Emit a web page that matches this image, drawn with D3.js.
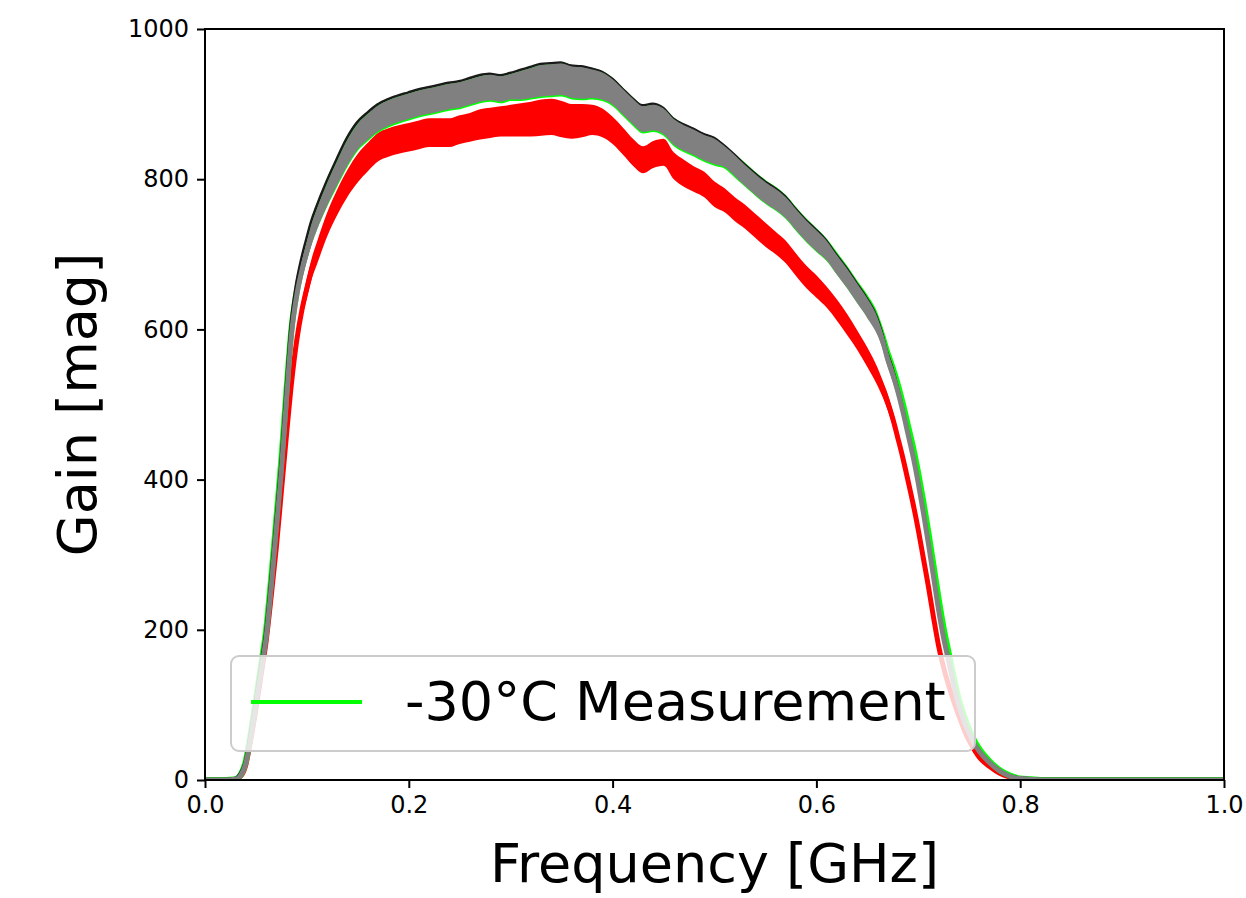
<!DOCTYPE html>
<html>
<head>
<meta charset="utf-8">
<script src="https://cdn.jsdelivr.net/npm/d3@7"></script>
<style>
    body { margin: 0; background: #ffffff; }
    svg text { font-family: "DejaVu Sans", sans-serif; fill: #000000; }
</style>
</head>
<body>
<svg id="chart" width="1246" height="898"></svg>
<script>
// Frequency samples [GHz]
var freq = [0, 0.02, 0.03, 0.035, 0.04, 0.045, 0.05, 0.055, 0.06, 0.065, 0.07, 0.075, 0.08, 0.085, 0.09, 0.095, 0.10, 0.105, 0.11,
    0.12, 0.13, 0.14, 0.15, 0.16, 0.17, 0.18, 0.19, 0.20, 0.21, 0.22, 0.23, 0.24, 0.25, 0.26, 0.27, 0.28, 0.29,
    0.30, 0.31, 0.32, 0.33, 0.34, 0.35, 0.36, 0.37, 0.38, 0.39, 0.40, 0.41, 0.42, 0.43, 0.44, 0.45, 0.46, 0.47, 0.48, 0.49,
    0.50, 0.51, 0.52, 0.53, 0.54, 0.55, 0.56, 0.57, 0.58, 0.59, 0.60, 0.61, 0.62, 0.63, 0.64, 0.65,
    0.66, 0.665, 0.67, 0.675, 0.68, 0.685, 0.69, 0.695, 0.70, 0.705, 0.71, 0.715, 0.72, 0.725, 0.73, 0.735, 0.74, 0.745,
    0.75, 0.755, 0.76, 0.77, 0.78, 0.79, 0.80, 0.81, 0.82, 0.85, 0.90, 1.00];

// -30°C measurement (green)
var greenGain = [0, 0, 1, 7, 25, 63, 107, 153, 200, 270, 348, 428, 520, 603, 650, 682, 707, 730, 749,
    781, 809, 836, 857, 870, 881, 888, 893, 897, 901, 904, 907, 910, 912, 916, 920, 922, 920,
    923, 925, 928, 931, 932, 933, 929, 928, 927, 924, 916, 903, 890, 880, 882, 877, 863, 855, 849, 842,
    837, 830, 818, 806, 794, 783, 774, 763, 747, 732, 719, 706, 688, 670, 650, 631,
    608, 590, 567, 548, 526, 500, 471, 442, 408, 370, 329, 285, 241, 201, 168, 135, 106, 85,
    67, 52, 41, 25, 13, 6, 2, 1, 0, 0, 0, 0];
var greenNoise = [0, 0, 0, 1, 2, 3, 4, 5, 6, 7, 8, 9, 10, 11, 12, 13, 14, 15, 16,
    17, 18, 19, 19, 19, 19, 19, 19, 19, 19, 19, 19, 19, 19, 19, 19, 19, 19,
    19, 21, 22, 23, 23, 23, 23, 23, 21, 20, 19, 19, 19, 19, 19, 19, 19, 19, 19, 19,
    19, 16, 16, 16, 16, 16, 16, 16, 16, 16, 16, 15, 15, 15, 15, 15,
    14, 13, 12, 12, 11, 11, 10, 10, 9, 9, 8, 8, 7, 6, 5, 5, 4, 4,
    3, 3, 2, 2, 1, 1, 0, 0, 0, 0, 0, 0];

// second measurement (grey)
var greyGain = [0, 0, 1, 6, 22, 58, 100, 145, 190, 258, 335, 413, 508, 595, 645, 678, 704, 728, 747,
    780, 809, 836, 857, 870, 881, 888, 893, 897, 901, 904, 907, 910, 912, 916, 920, 922, 920,
    923, 925, 928, 931, 932, 933, 929, 928, 927, 924, 916, 903, 890, 880, 882, 877, 863, 855, 849, 842,
    837, 830, 818, 805, 793, 782, 773, 762, 746, 731, 718, 705, 686, 668, 648, 628,
    604, 585, 560, 540, 517, 490, 460, 430, 395, 356, 314, 270, 226, 188, 157, 125, 98, 78,
    62, 48, 38, 23, 12, 5, 2, 1, 0, 0, 0, 0];
var greyNoise = [0, 0, 0, 1, 1, 2, 3, 4, 5, 6, 7, 8, 9, 10, 11, 12, 13, 14, 14,
    15, 16, 17, 17, 17, 17, 17, 17, 17, 17, 17, 17, 17, 17, 17, 17, 17, 17,
    17, 19, 20, 21, 21, 21, 21, 21, 19, 18, 17, 17, 17, 17, 17, 17, 17, 17, 17, 17,
    17, 14, 14, 14, 14, 14, 14, 14, 14, 14, 14, 13, 13, 13, 13, 13,
    12, 11, 10, 10, 9, 9, 8, 8, 7, 7, 6, 6, 5, 5, 4, 4, 3, 3,
    2, 2, 2, 1, 1, 0, 0, 0, 0, 0, 0, 0];

// third measurement (red)
var redGain = [0, 0, 1, 5, 20, 55, 95, 140, 185, 245, 310, 385, 460, 530, 585, 625, 655, 682, 702,
    740, 770, 795, 815, 830, 843, 849, 853, 856, 859, 862, 862, 862, 866, 869, 873, 875, 877,
    878, 879, 880, 882, 883, 880, 877, 878, 879, 875, 865, 851, 836, 826, 833, 836, 818, 808, 800, 793,
    780, 772, 760, 750, 738, 726, 715, 703, 686, 670, 657, 643, 626, 607, 586, 563,
    537, 521, 503, 481, 455, 428, 398, 367, 333, 295, 257, 216, 178, 149, 125, 104, 85, 67,
    52, 40, 30, 18, 9, 4, 1, 0, 0, 0, 0, 0];
var redNoise = [0, 0, 0, 1, 1, 2, 3, 4, 5, 6, 7, 8, 9, 10, 11, 12, 13, 14, 15,
    16, 17, 18, 19, 19, 19, 19, 19, 19, 19, 19, 19, 19, 19, 19, 20, 20, 20,
    21, 22, 23, 24, 24, 24, 23, 22, 20, 19, 18, 18, 18, 18, 18, 18, 18, 18, 17, 17,
    17, 16, 16, 16, 16, 16, 15, 15, 15, 15, 15, 14, 14, 14, 13, 13,
    12, 11, 11, 10, 9, 9, 8, 8, 7, 7, 6, 6, 5, 5, 4, 4, 3, 3,
    2, 2, 2, 1, 1, 0, 0, 0, 0, 0, 0, 0];

var xTicks = [0.0, 0.2, 0.4, 0.6, 0.8, 1.0];
var yTicks = [0, 200, 400, 600, 800, 1000];
var legendLabel = "-30°C Measurement";

// Static style
var style = {
    left: 205,
    right: 1224,
    top: 29,
    bottom: 780,
    tickLength: 8,
    tickFont: 24,
    labelFont: 54,
    green: "#00ff00",
    grey: "#808080",
    red: "#ff0000"
};

var svg = d3.select("#chart");

var x = d3.scaleLinear().domain([0, 1]).range([style.left, style.right]);
var y = d3.scaleLinear().domain([0, 1000]).range([style.bottom, style.top]);

svg.append("defs").append("clipPath")
    .attr("id", "plotClip")
    .append("rect")
    .attr("x", style.left)
    .attr("y", style.top - 2)
    .attr("width", style.right - style.left)
    .attr("height", style.bottom - style.top + 2);

var plot = svg.append("g").attr("clip-path", "url(#plotClip)");

// build rows for a series
var rows = function(gain, noise) {
    return freq.map(function(f, i) {
        return { f: f, g: gain[i], n: noise[i] };
    });
};

var band = d3.area()
    .curve(d3.curveMonotoneX)
    .x(function(d) { return x(d.f); })
    .y0(function(d) { return y(d.g - d.n); })
    .y1(function(d) { return y(d.g + d.n); });

var centre = d3.line()
    .curve(d3.curveMonotoneX)
    .x(function(d) { return x(d.f); })
    .y(function(d) { return y(d.g); });

var topEdge = d3.line()
    .curve(d3.curveMonotoneX)
    .x(function(d) { return x(d.f); })
    .y(function(d) { return y(d.g + d.n); });

var drawSeries = function(data, colour, width) {
    plot.append("path")
        .datum(data)
        .attr("d", band)
        .attr("fill", colour);
    plot.append("path")
        .datum(data)
        .attr("d", centre)
        .attr("fill", "none")
        .attr("stroke", colour)
        .attr("stroke-width", width);
};

var redRows = rows(redGain, redNoise);
var greenRows = rows(greenGain, greenNoise);
var greyRows = rows(greyGain, greyNoise);

drawSeries(redRows, style.red, 5);
drawSeries(greenRows, style.green, 6);

// thin dark edge sitting on top of the grey trace
plot.append("path")
    .datum(greyRows)
    .attr("d", topEdge)
    .attr("fill", "none")
    .attr("stroke", "#1a1a1a")
    .attr("stroke-width", 2.5)
    .attr("transform", "translate(-1,-1)");

drawSeries(greyRows, style.grey, 5);

// Axes
var xAxis = svg.append("g")
    .attr("transform", "translate(0," + style.bottom + ")")
    .call(d3.axisBottom(x).tickValues(xTicks).tickFormat(d3.format(".1f"))
        .tickSize(style.tickLength).tickPadding(8));

var yAxis = svg.append("g")
    .attr("transform", "translate(" + style.left + ",0)")
    .call(d3.axisLeft(y).tickValues(yTicks).tickFormat(d3.format("d"))
        .tickSize(style.tickLength).tickPadding(8));

[xAxis, yAxis].forEach(function(a) {
    a.select(".domain").remove();
    a.selectAll(".tick line").attr("stroke", "#000000").attr("stroke-width", 2);
    a.selectAll(".tick text")
        .attr("font-family", "DejaVu Sans")
        .attr("font-size", style.tickFont)
        .attr("fill", "#000000");
});

// Frame
svg.append("rect")
    .attr("x", style.left)
    .attr("y", style.top)
    .attr("width", style.right - style.left)
    .attr("height", style.bottom - style.top)
    .attr("fill", "none")
    .attr("stroke", "#000000")
    .attr("stroke-width", 2);

// Axis labels
svg.append("text")
    .attr("x", (style.left + style.right) / 2)
    .attr("y", 882)
    .attr("text-anchor", "middle")
    .attr("font-size", style.labelFont)
    .text("Frequency [GHz]");

svg.append("text")
    .attr("transform", "translate(96," + (style.top + style.bottom) / 2 + ") rotate(-90)")
    .attr("text-anchor", "middle")
    .attr("font-size", style.labelFont)
    .text("Gain [mag]");

// Legend
var legend = svg.append("g");

legend.append("rect")
    .attr("x", 231)
    .attr("y", 656)
    .attr("width", 744)
    .attr("height", 95)
    .attr("rx", 8)
    .attr("fill", "#ffffff")
    .attr("fill-opacity", 0.8)
    .attr("stroke", "#cccccc")
    .attr("stroke-width", 2);

legend.append("line")
    .attr("x1", 251)
    .attr("x2", 362)
    .attr("y1", 702)
    .attr("y2", 702)
    .attr("stroke", style.green)
    .attr("stroke-width", 4);

legend.append("text")
    .attr("x", 405)
    .attr("y", 720)
    .attr("font-size", style.labelFont)
    .text(legendLabel);
</script>
</body>
</html>
